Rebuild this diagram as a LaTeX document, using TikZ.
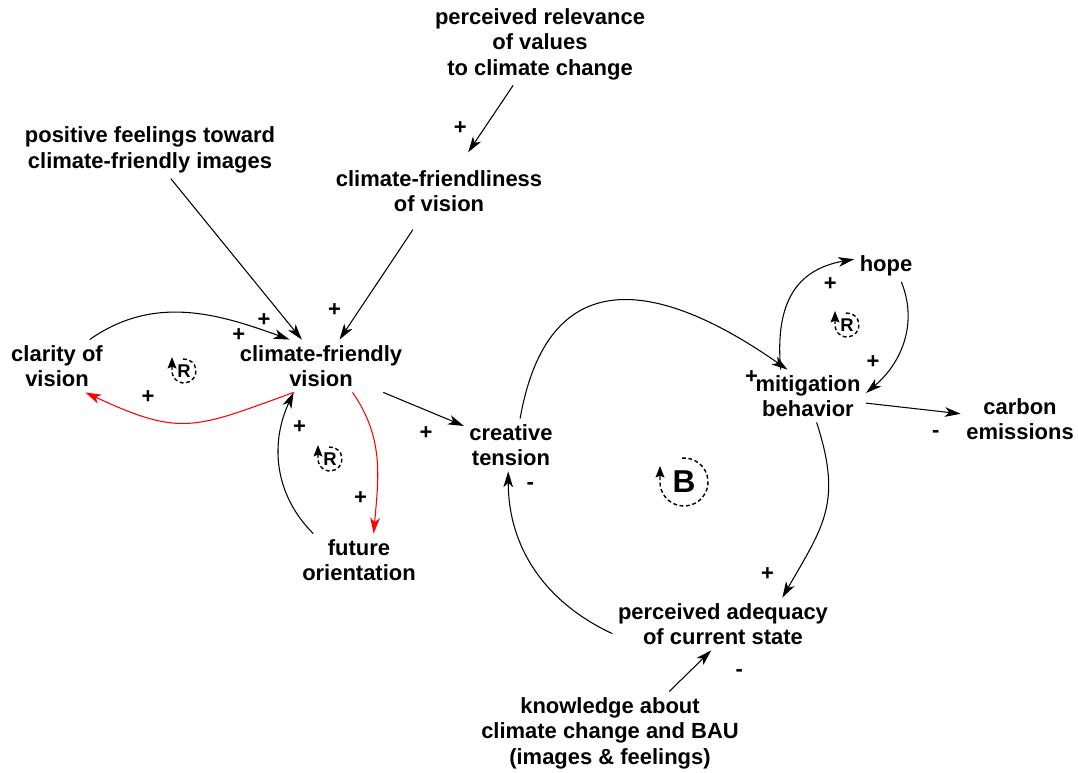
\documentclass[tikz,border=0pt]{standalone}
\usepackage{fontspec}
\setmainfont{Liberation Sans}
\usetikzlibrary{arrows.meta}

\begin{document}
\begin{tikzpicture}[x=0.02cm,y=0.02cm]
	\tikzstyle{var} = [align=center, inner sep=3pt, font=\bfseries\fontsize{12.5}{14.5}\selectfont];
	\tikzstyle{link} = [line width=0.6pt, -{Stealth[length=9pt,width=5.5pt,inset=2.5pt]}];
	\tikzstyle{redlink} = [link, draw=red];
	\tikzstyle{sign} = [inner sep=0pt, font=\bfseries\fontsize{12.5}{14.5}\selectfont];
	\tikzstyle{loopname} = [inner sep=0pt, font=\bfseries\fontsize{10.5}{10.5}\selectfont];
	\tikzstyle{loopline} = [line width=0.8pt, dash pattern=on 2.2pt off 1.5pt, -{Stealth[length=6.5pt,width=5pt,inset=1pt]}];

	\useasboundingbox (0,0) rectangle (1078,773);

	\node [var] (relevance) at (540,729) {perceived relevance\\of values\\to climate change};
	\node [var] (posfeel) at (150,623) {positive feelings toward\\climate-friendly images};
	\node [var, inner ysep=10pt] (friendliness) at (439,582) {climate-friendliness\\of vision};
	\node [var] (clarity) at (57,407) {clarity of\\vision};
	\node [var] (cfv) at (321,407) {climate-friendly\\vision};
	\node [var] (future) at (359,213) {future\\orientation};
	\node [var] (tension) at (511,328) {creative\\tension};
	\node [var] (hope) at (886,507) {hope};
	\node [var] (mitigation) at (808,377) {mitigation\\behavior};
	\node [var] (carbon) at (1020,354) {carbon\\emissions};
	\node [var] (adequacy) at (723,149) {perceived adequacy\\of current state};
	\node [var] (knowledge) at (610,40) {knowledge about\\climate change and BAU\\(images \& feelings)};

	% links into the vision
	\draw [link] (relevance.237) -- node [sign, pos=1, xshift=-4.5pt, yshift=13.6pt] {+} (friendliness.53);
	\draw [link] (posfeel.306) -- node [sign, pos=1, xshift=-21.5pt, yshift=11.3pt] {+} (cfv.126);
	\draw [link] (friendliness.236) -- node [sign, pos=1, xshift=-2.8pt, yshift=17pt] {+} (cfv.55);
	\draw [link] (clarity.39) to[out=35,in=160] node [sign, pos=1, xshift=-28.9pt, yshift=2.8pt] {+} (cfv.140);
	\draw [redlink] (cfv.224) to[out=200,in=-25,looseness=1.3] node [sign, pos=1, xshift=35.7pt, yshift=-2.8pt] {+} (clarity.317);
	\draw [redlink] (cfv.320) to[out=-55,in=85] node [sign, pos=1, xshift=-7.4pt, yshift=20.4pt] {+} (future.61);
	\draw [link] (future.150) to[out=135,in=-115] node [sign, pos=1, xshift=3.4pt, yshift=-19.8pt] {+} (cfv.224);
	\draw [link] (cfv.337) -- node [sign, pos=1, xshift=-21.5pt, yshift=-4pt] {+} (tension.158);

	% balancing loop
	\draw [link] (adequacy.185) to[out=155,in=-90] node [sign, pos=1, xshift=12.5pt, yshift=-8.5pt] {-} (tension.264);
	\draw [link] (tension.71) to[out=80,in=145,looseness=1.5] node [sign, pos=1, xshift=-20.4pt, yshift=-4pt] {+} (mitigation.128);
	\draw [link] (mitigation.288) to[out=-72,in=60,looseness=1.2] node [sign, pos=1, xshift=-8.5pt, yshift=13.6pt] {+} (adequacy.24);
	\draw [link] (knowledge.35) -- node [sign, pos=1, xshift=15.9pt, yshift=-13pt] {-} (adequacy.246);

	% hope loop and emissions
	\draw [link] (mitigation.136) to[out=95,in=190,looseness=1.2] node [sign, pos=1, xshift=-13.6pt, yshift=-14.2pt] {+} (hope.168);
	\draw [link] (hope.314) to[out=-68,in=40] node [sign, pos=1, xshift=4pt, yshift=17.6pt] {+} (mitigation.3);
	\draw [link] (mitigation.353) -- node [sign, pos=1, xshift=-14.2pt, yshift=-11.3pt] {-} (carbon.175);

	% loop markers
	\node [loopname] (loopA) at (184,402) {R};
	\draw [loopline] (loopA) ++(95:12) arc (95:-180:12) -- ++(0,14);
	\node [loopname] (loopC) at (330,314) {R};
	\draw [loopline] (loopC) ++(95:12) arc (95:-180:12) -- ++(0,14);
	\node [loopname] (loopD) at (847,448) {R};
	\draw [loopline] (loopD) ++(95:12) arc (95:-180:12) -- ++(0,14);
	\node [loopname, font=\bfseries\fontsize{18}{18}\selectfont] (loopB) at (684,291) {B};
	\draw [loopline] (loopB) ++(95:24) arc (95:-180:24) -- ++(0,16);
\end{tikzpicture}
\end{document}
